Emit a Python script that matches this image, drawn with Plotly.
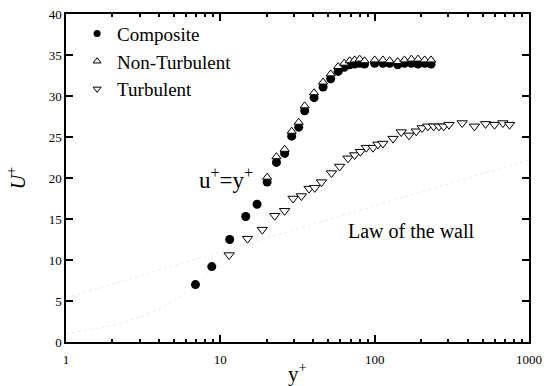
import plotly.graph_objects as go

# ---- data ----
comp_x = [6.9, 8.8, 11.5, 14.6, 17.3, 20.1, 23.1, 26.1, 29.0, 32.2, 35.2, 40.5, 46.3, 51.9,
          58.0, 63.4, 68.9, 74.2, 80.0, 86.0, 100, 113, 125, 141, 156, 173, 191, 211, 232]
comp_y = [7.0, 9.2, 12.5, 15.3, 16.8, 19.5, 21.9, 23.0, 25.1, 26.2, 28.2, 29.8, 31.1, 32.1,
          33.0, 33.5, 33.8, 33.9, 34.0, 33.9, 34.0, 34.0, 34.0, 33.8, 34.0, 34.0, 33.9, 34.0, 33.9]

nonturb_x = [20.1, 23.1, 26.1, 29.0, 32.2, 35.2, 40.5, 46.3, 51.9, 58.0, 63.4, 68.9, 74.2,
             80.0, 86.0, 100, 113, 125, 141, 156, 173, 191, 211, 232]
nonturb_y = [20.1, 22.6, 23.5, 25.7, 26.8, 28.8, 30.4, 31.7, 32.7, 33.6, 34.0, 34.3, 34.4,
             34.5, 34.3, 34.4, 34.4, 34.3, 34.2, 34.4, 34.5, 34.5, 34.4, 34.4]

turb_x = [11.4, 15.0, 18.7, 22.5, 26.1, 29.6, 33.5, 37.6, 40.9, 45.2, 52.5, 59.3, 67.2, 74.2,
          80.8, 88.3, 97.5, 105, 113, 131.5, 148.6, 167, 186, 203, 221, 241, 261, 280, 303,
          369, 443, 523, 598, 677, 748]
turb_y = [10.6, 12.6, 13.7, 15.4, 16.0, 17.5, 17.8, 18.7, 18.8, 19.5, 20.6, 21.4, 22.4, 22.8,
          23.2, 23.7, 23.7, 24.1, 24.2, 24.8, 25.6, 25.2, 25.7, 26.1, 26.3, 26.3, 26.3, 26.3, 26.5,
          26.7, 26.3, 26.6, 26.5, 26.7, 26.5]

# faint law-of-the-wall guide lines (barely visible in the reference)
visc_x = [1, 2, 3, 4, 5, 6, 7, 8, 9, 10, 11, 12]
visc_y = [1, 2, 3, 4, 5, 6, 7, 8, 9, 10, 11, 12]
loglaw_x = [1, 1000]
loglaw_y = [5.4, 22.2]

series_names = ["Composite", "Non-Turbulent", "Turbulent"]

x_tickvals = [1, 10, 100, 1000]
x_ticktext = ["1", "10", "100", "1000"]
y_tickvals = [0, 5, 10, 15, 20, 25, 30, 35, 40]

FONT = "Liberation Serif"
FAINT = "#ececec"

fig = go.Figure()
fig.add_trace(go.Scatter(x=visc_x, y=visc_y, mode="lines", showlegend=False, hoverinfo="skip",
                         line=dict(color=FAINT, width=1, dash="dot")))
fig.add_trace(go.Scatter(x=loglaw_x, y=loglaw_y, mode="lines", showlegend=False, hoverinfo="skip",
                         line=dict(color=FAINT, width=1, dash="dot")))

styles = [
    dict(symbol="circle", color="black", line=dict(color="black", width=0)),
    dict(symbol="triangle-up", color="white", line=dict(color="black", width=1)),
    dict(symbol="triangle-down", color="white", line=dict(color="black", width=1)),
]
data_sizes = [9, 8, 9]
legend_sizes = [7, 7, 7]
series = [(comp_x, comp_y), (nonturb_x, nonturb_y), (turb_x, turb_y)]

for (sx, sy), name, st, ds in zip(series, series_names, styles, data_sizes):
    fig.add_trace(go.Scatter(x=sx, y=sy, mode="markers", name=name, showlegend=False,
                             legendgroup=name, marker=dict(size=ds, **st)))
# legend entries (smaller symbols, as in the reference legend)
for name, st, ls in zip(series_names, styles, legend_sizes):
    fig.add_trace(go.Scatter(x=[None], y=[None], mode="markers", name=name, showlegend=True,
                             legendgroup=name, marker=dict(size=ls, **st)))

fig.update_layout(
    width=552, height=386,
    margin=dict(l=66, r=23, t=14, b=44),
    paper_bgcolor="white", plot_bgcolor="white",
    font=dict(family=FONT, color="black", size=13),
    legend=dict(x=0.024, y=0.998, xanchor="left", yanchor="top",
                bgcolor="rgba(0,0,0,0)", font=dict(family=FONT, size=19),
                tracegroupgap=0, itemwidth=30),
    xaxis=dict(type="log", range=[0, 3], tickvals=x_tickvals, ticktext=x_ticktext,
               ticks="inside", ticklen=7, tickwidth=1.5, tickcolor="black",
               showline=True, linecolor="black", linewidth=1.5, mirror="allticks",
               showgrid=False, zeroline=False, ticklabelstandoff=5, automargin=False,
               minor=dict(dtick="D1", ticks="inside", ticklen=3, tickcolor="black", showgrid=False),
               tickfont=dict(family=FONT, size=13),
               title=dict(text="y<sup>+</sup>", font=dict(family=FONT, size=21), standoff=7)),
    yaxis=dict(range=[0, 40], tickvals=y_tickvals,
               ticks="inside", ticklen=7, tickwidth=1.5, tickcolor="black",
               showline=True, linecolor="black", linewidth=1.5, mirror="allticks",
               showgrid=False, zeroline=False, automargin=False,
               tickfont=dict(family=FONT, size=13),
               title=dict(text="<i>U</i><sup>+</sup>", font=dict(family=FONT, size=20), standoff=18)),
    annotations=[
        dict(text="u<sup>+</sup>=y<sup>+</sup>", xref="paper", yref="paper", x=0.3456, y=0.5,
             xanchor="center", yanchor="middle",
             showarrow=False, font=dict(family=FONT, size=23)),
        dict(text="Law of the wall", xref="paper", yref="paper", x=0.747, y=0.338,
             xanchor="center", yanchor="middle",
             showarrow=False, font=dict(family=FONT, size=20)),
    ],
)

fig.write_html("out.html")
